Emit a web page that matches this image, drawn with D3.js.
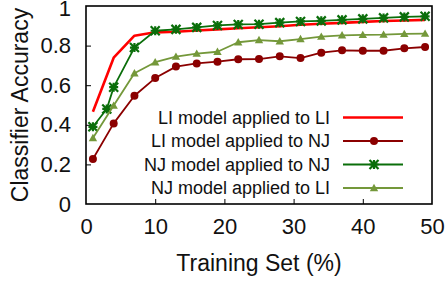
<!DOCTYPE html>
<html lang="en">
<head>
<meta charset="UTF-8">
<title>Classifier Accuracy</title>
<style>
  *{ margin:0; padding:0 }
  html, body { width:448px; height:286px; background:#fff; overflow:hidden }
  svg { display:block; font-family:"Liberation Sans", Arial, sans-serif }
</style>
<script src="https://cdn.jsdelivr.net/npm/d3@7/dist/d3.min.js"></script>
</head>
<body>
<svg id="chart" width="448" height="286"></svg>
<script>
// data
const xTicks = [0, 10, 20, 30, 40, 50];
const yTicks = [0, 0.2, 0.4, 0.6, 0.8, 1];
const xMain  = [1, 4, 7, 10, 13, 16, 19, 22, 25, 28, 31, 34, 37, 40, 43, 46, 49];
const xNJ    = [1, 3, 4, 7, 10, 13, 16, 19, 22, 25, 28, 31, 34, 37, 40, 43, 46, 49];
const liOnLi = [0.466, 0.739, 0.85, 0.867, 0.87, 0.876, 0.882, 0.888, 0.893, 0.898, 0.905, 0.91, 0.915, 0.92, 0.924, 0.927, 0.93];
const liOnNj = [0.227, 0.407, 0.547, 0.636, 0.694, 0.71, 0.719, 0.731, 0.732, 0.746, 0.737, 0.764, 0.776, 0.774, 0.774, 0.786, 0.793];
const njOnNj = [0.39, 0.48, 0.59, 0.79, 0.875, 0.882, 0.892, 0.902, 0.907, 0.908, 0.916, 0.922, 0.925, 0.93, 0.935, 0.94, 0.945, 0.948];
const njOnLi = [0.333, 0.497, 0.66, 0.716, 0.744, 0.759, 0.769, 0.817, 0.828, 0.822, 0.833, 0.845, 0.852, 0.854, 0.855, 0.859, 0.86];
const labels = ["LI model applied to LI", "LI model applied to NJ", "NJ model applied to NJ", "NJ model applied to LI"];

const series = [
  {name:labels[0], xs:xMain, ys:liOnLi, color:"#ff0000", width:2.6, mark:null},
  {name:labels[1], xs:xMain, ys:liOnNj, color:"#8b0000", width:1.8, mark:"circle"},
  {name:labels[2], xs:xNJ,   ys:njOnNj, color:"#0a6e0a", width:1.8, mark:"star"},
  {name:labels[3], xs:xMain, ys:njOnLi, color:"#74983a", width:1.8, mark:"tri"}
];

const svg = d3.select("#chart");
const L = 86, R = 432, T = 6, B = 204;
const x = d3.scaleLinear().domain([0, 50]).range([L, R]);
const y = d3.scaleLinear().domain([0, 1]).range([B, T]);

// axes, ticks inward
const xAxis = svg.append("g").attr("transform", `translate(0,${B})`)
  .call(d3.axisBottom(x).tickValues(xTicks).tickSize(-5).tickPadding(14).tickFormat(d3.format("d")));
const yAxis = svg.append("g").attr("transform", `translate(${L},0)`)
  .call(d3.axisLeft(y).tickValues(yTicks).tickSize(-5).tickPadding(15).tickFormat(d => d === 0 || d === 1 ? d : d.toFixed(1)));
[xAxis, yAxis].forEach(g => {
  g.select(".domain").remove();
  g.selectAll(".tick line").attr("stroke", "#000").attr("stroke-width", 1);
  g.selectAll(".tick text").attr("font-size", 22).attr("fill", "#111");
});
xAxis.selectAll(".tick").filter(d => d === 0 || d === 50).select("line").remove();
yAxis.selectAll(".tick").filter(d => d === 0 || d === 1).select("line").remove();
xAxis.selectAll(".tick text").attr("dy", "0.71em");
// keep the top "1" inside the picture
yAxis.selectAll(".tick").filter(d => d === 1).select("text").attr("dy", "0.42em");

svg.append("rect").attr("x", L).attr("y", T).attr("width", R - L).attr("height", B - T)
  .attr("fill", "none").attr("stroke", "#000").attr("stroke-width", 1.6);

svg.append("text").attr("x", (L + R) / 2).attr("y", 271).attr("text-anchor", "middle")
  .attr("font-size", 23).attr("fill", "#111").text("Training Set (%)");
svg.append("text").attr("transform", `translate(28,${(T + B) / 2}) rotate(-90)`)
  .attr("text-anchor", "middle").attr("font-size", 23).attr("fill", "#111").text("Classifier Accuracy");

function drawMark(g, m, cx, cy, color) {
  if (m === "circle") {
    g.append("circle").attr("cx", cx).attr("cy", cy).attr("r", 4).attr("fill", color);
  } else if (m === "tri") {
    const s = 4.2;
    g.append("path").attr("d", `M${cx},${cy - s}L${cx + s},${cy + s * 0.75}L${cx - s},${cy + s * 0.75}Z`).attr("fill", color);
  } else if (m === "star") {
    const s = 4.5;
    g.append("path")
      .attr("d", `M${cx - s},${cy}H${cx + s}M${cx},${cy - s}V${cy + s}M${cx - s},${cy - s}L${cx + s},${cy + s}M${cx - s},${cy + s}L${cx + s},${cy - s}`)
      .attr("stroke", color).attr("stroke-width", 2.2).attr("fill", "none");
  }
}

const line = d3.line().x(d => x(d[0])).y(d => y(d[1]));
const plot = svg.append("g");
series.forEach(s => {
  const pts = s.xs.map((v, i) => [v, s.ys[i]]);
  const g = plot.append("g");
  g.append("path").attr("d", line(pts)).attr("fill", "none")
    .attr("stroke", s.color).attr("stroke-width", s.width).attr("stroke-linejoin", "round");
  if (s.mark) pts.forEach(p => drawMark(g, s.mark, x(p[0]), y(p[1]), s.color));
});

// legend
const leg = svg.append("g");
series.forEach((s, i) => {
  const cy = 117.5 + i * 23.5;
  leg.append("text").attr("x", 330).attr("y", cy).attr("dy", "0.35em").attr("text-anchor", "end")
    .attr("font-size", 18).attr("fill", "#111").text(s.name);
  leg.append("line").attr("x1", 343).attr("x2", 403).attr("y1", cy).attr("y2", cy)
    .attr("stroke", s.color).attr("stroke-width", s.width);
  if (s.mark) drawMark(leg, s.mark, 374, cy, s.color);
});
</script>
</body>
</html>
